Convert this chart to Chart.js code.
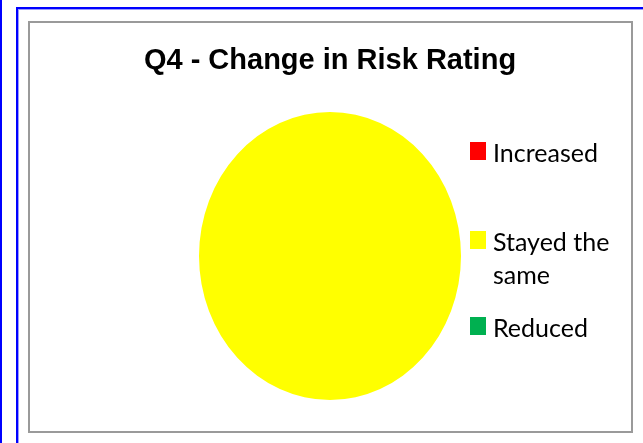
<!DOCTYPE html>
<html>
<head>
<meta charset="utf-8">
<script src="https://cdn.jsdelivr.net/npm/chart.js@4"></script>
<style>
    html, body { margin: 0; padding: 0; background: #fff; }
    body { width: 643px; height: 443px; position: relative; overflow: hidden; }
    .edge { position: absolute; left: 0; top: 0; width: 2px; height: 443px; background: #0000ff; }
    .outer { position: absolute; left: 16px; top: 7px; width: 640px; height: 460px; box-sizing: border-box;
             border: 2px solid #0000ff; box-shadow: inset 1px 1px 0 #9a9aff; }
    .frame { position: absolute; left: 28px; top: 21px; width: 605px; height: 412px; box-sizing: border-box;
             border: 2px solid #9a9a9a; }
    #chart { position: absolute; left: 28px; top: 0; }
    .legend-item { position: absolute; left: 470px; font-family: Lato, 'Open Sans', sans-serif;
                   font-size: 25px; line-height: 33px; color: #000; }
    .legend-item .box { position: absolute; left: 0; top: 6px; width: 16px; height: 18px; }
    .legend-item .txt { margin-left: 23px; width: 125px; }
</style>
</head>
<body>
<div class="edge"></div>
<div class="outer"></div>
<div class="frame"></div>
<canvas id="chart" width="604" height="443"></canvas>
<div id="legend"></div>

<script>
// ========================================
// Q4 — Change in Risk Rating
// ========================================

const categories = ['Increased', 'Stayed the same', 'Reduced'];
const responses = [0, 100, 0];
const sliceColors = ['#ff0000', '#ffff00', '#00b050'];
const legendLines = [['Increased'], ['Stayed the', 'same'], ['Reduced']];
const legendTops = [136, 225, 311];

// the source pie is a little taller than wide
const stretchPie = {
    id: 'stretchPie',
    beforeDatasetsDraw(chart) {
        const arc = chart.getDatasetMeta(0).data[0];
        const ctx = chart.ctx;
        ctx.save();
        ctx.translate(arc.x, arc.y);
        ctx.scale(1, 144 / 131);
        ctx.translate(-arc.x, -arc.y);
    },
    afterDatasetsDraw(chart) {
        chart.ctx.restore();
    }
};

new Chart(document.getElementById('chart'), {
    type: 'pie',
    data: {
        labels: categories,
        datasets: [{
            data: responses,
            backgroundColor: sliceColors,
            borderWidth: 0,
            radius: 131
        }]
    },
    options: {
        responsive: false,
        animation: false,
        layout: { padding: { left: 0, right: 0, top: 0, bottom: 21 } },
        plugins: {
            legend: { display: false },
            tooltip: { enabled: false },
            title: {
                display: true,
                text: 'Q4 - Change in Risk Rating',
                color: '#000',
                font: { family: 'Arial, Helvetica, sans-serif', size: 29, weight: 'bold', lineHeight: 1.2 },
                padding: { top: 43.6, bottom: 11.6 }
            }
        }
    },
    plugins: [stretchPie]
});

document.getElementById('legend').innerHTML = categories.map((cat, i) => `
    <div class="legend-item" style="top:${legendTops[i]}px;">
        <span class="box" style="background:${sliceColors[i]};"></span>
        <div class="txt">${legendLines[i].join('<br>')}</div>
    </div>
`).join('');
</script>
</body>
</html>
